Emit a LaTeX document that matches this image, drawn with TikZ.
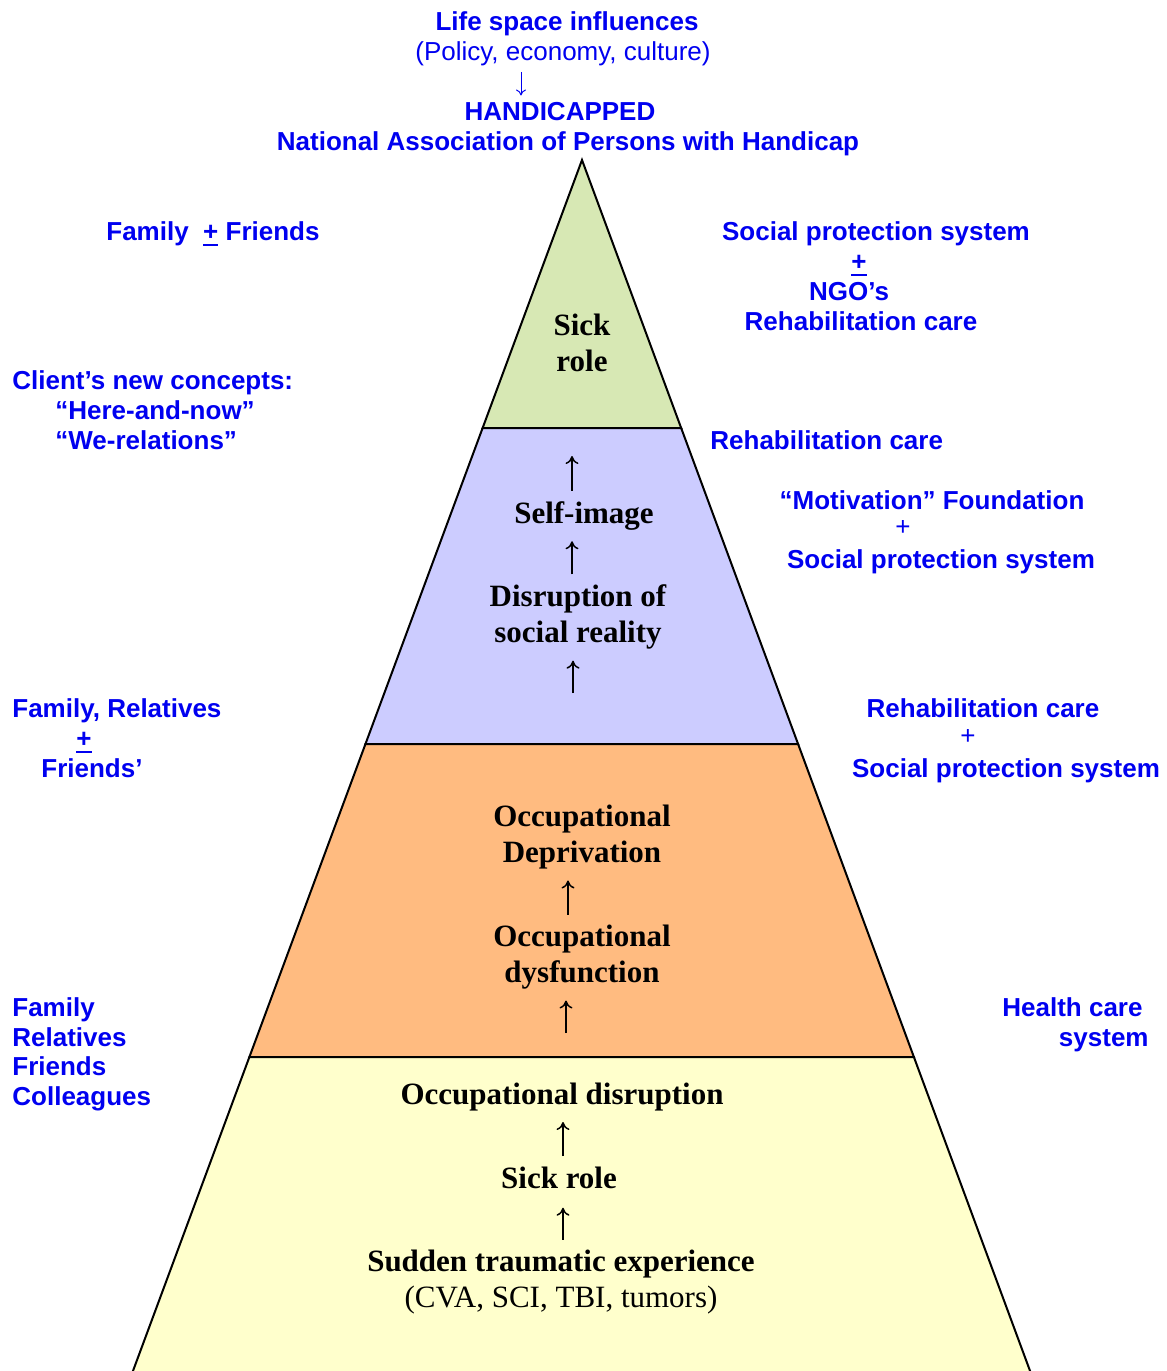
\documentclass[tikz,border=0pt]{standalone}
\usepackage{fontspec}
\setmainfont{Liberation Serif}
\newfontfamily\arialfont{Liberation Sans}
\usepackage{tikz}
\usetikzlibrary{arrows.meta}
\definecolor{txtblue}{RGB}{0,0,240}
\definecolor{sickgreen}{RGB}{215,232,180}
\definecolor{lavender}{RGB}{204,204,255}
\definecolor{peach}{RGB}{255,187,128}
\definecolor{paleyel}{RGB}{255,255,204}
\newcommand\plusbar{\vtop{\hbox{+}\kern2pt\hrule height 1pt}}

\begin{document}
\begin{tikzpicture}[x=0.5pt,y=-0.5pt,
  blu/.style={text=txtblue,font=\arialfont\bfseries\fontsize{13}{15}\selectfont,inner sep=0pt},
  blk/.style={font=\bfseries\fontsize{15.5}{18}\selectfont,inner sep=0pt,align=center},
  up/.style={-{To[length=4pt,width=6.5pt]},line width=0.75pt,shorten <=5pt,shorten >=5.5pt},
  down/.style={-{To[length=3pt,width=5pt]},line width=0.5pt,draw=txtblue,shorten <=3pt,shorten >=3pt}]
  \useasboundingbox (0,0) rectangle (1167,1371);
  % pyramid layers
  \foreach \ya/\yb/\col in {160/428/sickgreen,428/744/lavender,744/1057/peach,1057/1380/paleyel}
    \filldraw[fill=\col,draw=black,line width=1pt] ({582-0.3708*(\ya-160)},\ya) -- ({582-0.3708*(\yb-160)},\yb)
      -- ({582+0.370*(\yb-160)},\yb) -- ({582+0.370*(\ya-160)},\ya) -- cycle;

  % top title
  \node[blu,anchor=base] (life) at (567,30) {Life space influences};
  \node[blu,anchor=base] (policy) at (563,60) {\mdseries (Policy, economy, culture)};
  \node[blu,anchor=base] (handi) at (560,120) {HANDICAPPED};
  \node[blu,anchor=base] (napa) at (568,150) {National Association of Persons with Handicap};
  \draw[down] (policy.south -| 521,0) -- (handi.north -| 521,0);

  % left side
  \node[blu,anchor=base west] (famfr) at (106,240) {Family~~\plusbar~Friends};
  \node[blu,anchor=base west] (client) at (12,389) {Client’s new concepts:};
  \node[blu,anchor=base west] (here) at (55,419) {“Here-and-now”};
  \node[blu,anchor=base west] (werel) at (55,449) {“We-relations”};
  \node[blu,anchor=base west] (famrel) at (12,717) {Family, Relatives};
  \node[blu,anchor=base] (pmC) at (84,747) {\plusbar};
  \node[blu,anchor=base west] (friendsB) at (41,777) {Friends’};
  \node[blu,anchor=base west] (famD) at (12,1016) {Family};
  \node[blu,anchor=base west] (relD) at (12,1046) {Relatives};
  \node[blu,anchor=base west] (friD) at (12,1075) {Friends};
  \node[blu,anchor=base west] (colD) at (12,1105) {Colleagues};

  % right side
  \node[blu,anchor=base] (spsA) at (876,240) {Social protection system};
  \node[blu,anchor=base] (pmA) at (859,270) {\plusbar};
  \node[blu,anchor=base] (ngo) at (849,300) {NGO’s};
  \node[blu,anchor=base] (rcA) at (861,330) {Rehabilitation care};
  \node[blu,anchor=base west] (rcB) at (710,449) {Rehabilitation care};
  \node[blu,anchor=base] (motiv) at (932,509) {“Motivation” Foundation};
  \node[blu] (pmB) at (903,528) {\mdseries +};
  \node[blu,anchor=base] (spsB) at (941,568) {Social protection system};
  \node[blu,anchor=base] (rcC) at (983,717) {Rehabilitation care};
  \node[blu] (pmD) at (968,737) {\mdseries +};
  \node[blu,anchor=base] (spsC) at (1006,777) {Social protection system};
  \node[blu,anchor=base east] (health) at (1143,1016) {Health care};
  \node[blu,anchor=base east] (hsys) at (1149,1046) {system};

  % inside the pyramid
  \node[blk] (sickA) at (582,343) {Sick\\role};
  \node[blk,anchor=base] (selfimg) at (584,523) {Self-image};
  \node[blk] (disr) at (578,617) {Disruption of\\social reality};
  \coordinate (lavtop) at (572,456);
  \coordinate (lavbot) at (573,693);
  \draw[up,shorten >=0pt] (selfimg.north -| lavtop) -- (lavtop);
  \draw[up] (disr.north -| lavtop) -- (selfimg.south -| lavtop);
  \draw[up,shorten <=0pt] (lavbot) -- (disr.south -| lavbot);

  \node[blk] (odep) at (582,837) {Occupational\\Deprivation};
  \node[blk] (odys) at (582,957) {Occupational\\dysfunction};
  \coordinate (orgbot) at (566,1033);
  \draw[up] (odys.north -| 568,0) -- (odep.south -| 568,0);
  \draw[up,shorten <=0pt] (orgbot) -- (odys.south -| orgbot);

  \node[blk,anchor=base] (odisr) at (562,1104) {Occupational disruption};
  \node[blk,anchor=base] (sickB) at (559,1188) {Sick role};
  \node[blk] (sudden) at (561,1282) {Sudden traumatic experience\\{\mdseries (CVA, SCI, TBI, tumors)}};
  \draw[up] (sickB.north -| 563,0) -- (odisr.south -| 563,0);
  \draw[up,shorten >=9.5pt] (sudden.north -| 563,0) -- (sickB.south -| 563,0);
\end{tikzpicture}
\end{document}
